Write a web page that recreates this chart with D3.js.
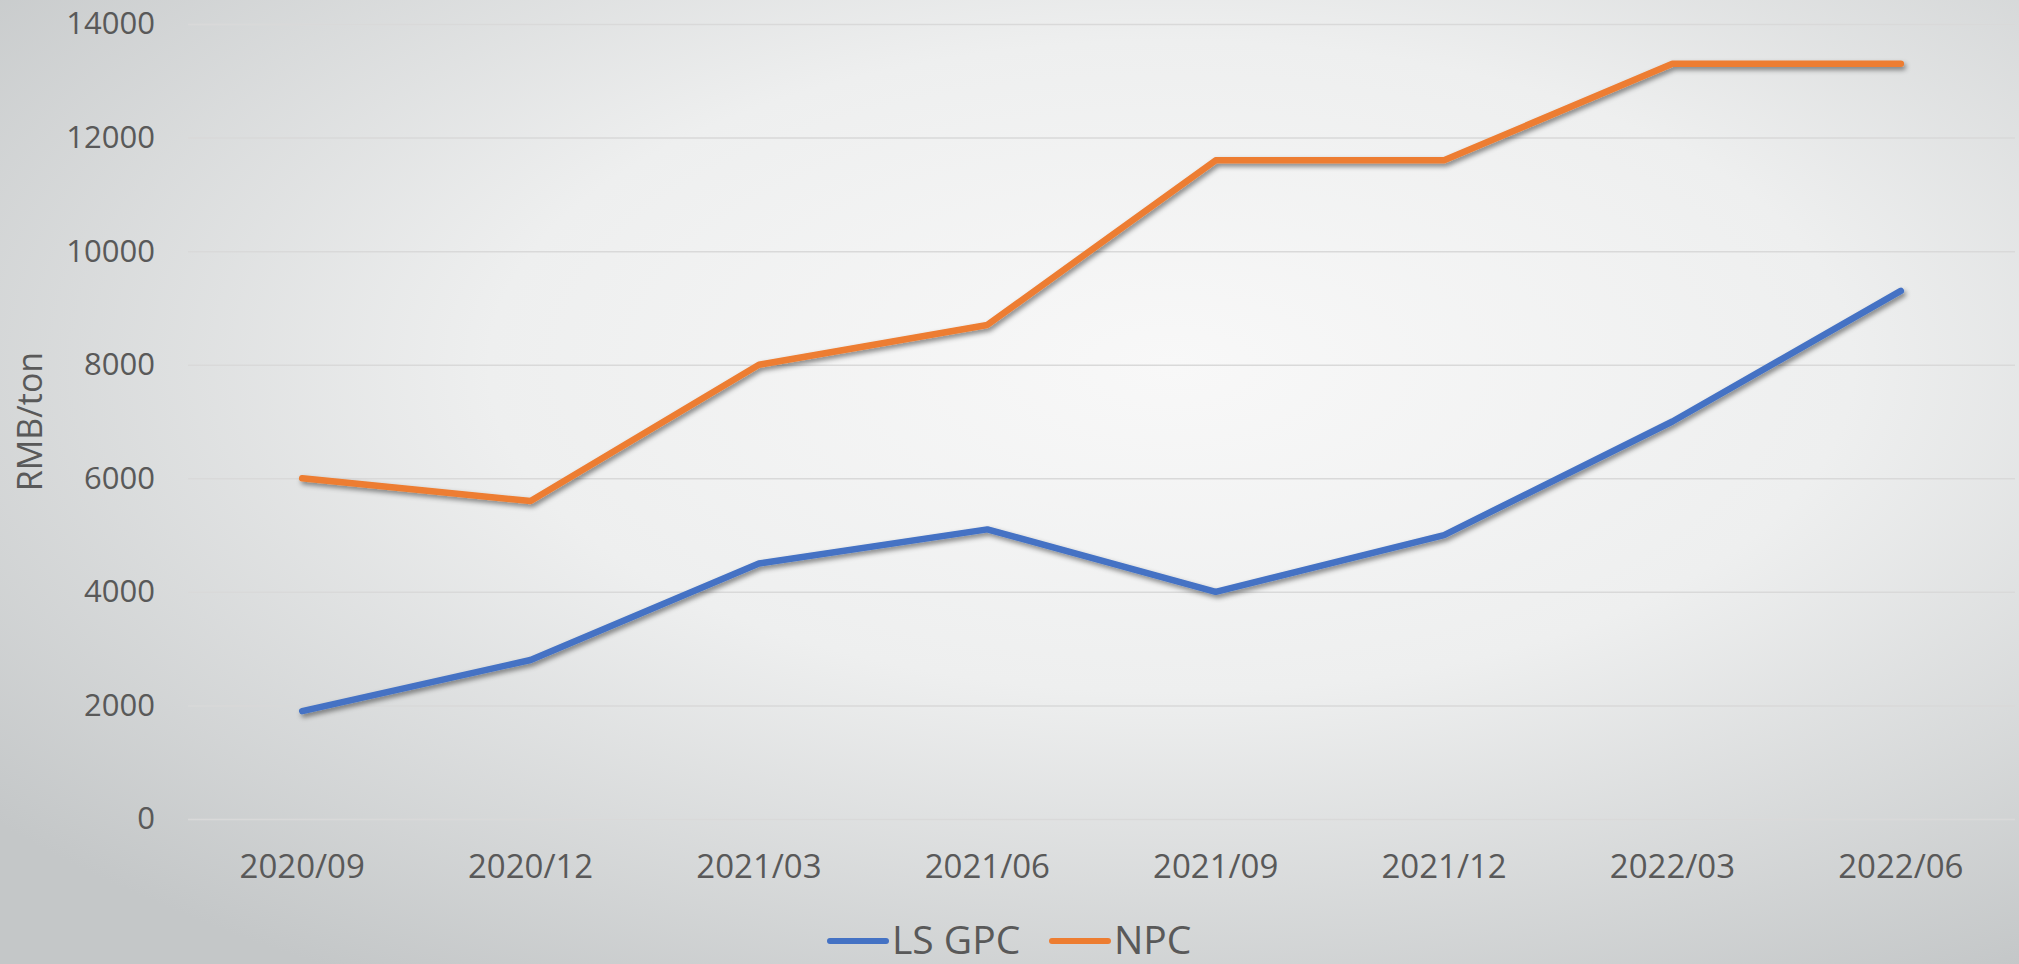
<!DOCTYPE html>
<html>
<head>
<meta charset="utf-8">
<script src="https://cdn.jsdelivr.net/npm/d3@7"></script>
<style>
  html, body { margin: 0; padding: 0; overflow: hidden; }
  svg { display: block; font-family: "Open Sans", "Noto Sans", sans-serif; }
</style>
</head>
<body>
<div id="chartContainer"></div>
<script>
const width = 2019;
const height = 964;

const marginLeft = 188;
const marginRight = 4;
const marginTop = 24;
const marginBottom = 145;

const categories = ["2020/09", "2020/12", "2021/03", "2021/06", "2021/09", "2021/12", "2022/03", "2022/06"];
const lsGpc = [1900, 2800, 4500, 5100, 4000, 5000, 7000, 9300];
const npc = [6000, 5600, 8000, 8700, 11600, 11600, 13300, 13300];
const yTicks = [0, 2000, 4000, 6000, 8000, 10000, 12000, 14000];

const seriesNames = ["LS GPC", "NPC"];
const seriesColors = ["#4472C4", "#ED7D31"];

var svg = d3.select("#chartContainer").append("svg")
    .attr("width", width)
    .attr("height", height);

var defs = svg.append("defs");
var grad = defs.append("radialGradient")
    .attr("id", "bg")
    .attr("cx", "58%").attr("cy", "38%").attr("r", "75%")
    .attr("fx", "58%").attr("fy", "38%");
grad.append("stop").attr("offset", "0%").attr("stop-color", "#f8f8f8");
grad.append("stop").attr("offset", "45%").attr("stop-color", "#eeefef");
grad.append("stop").attr("offset", "100%").attr("stop-color", "#c4c7c8");

var shadow = defs.append("filter").attr("id", "shadow")
    .attr("x", "-5%").attr("y", "-10%").attr("width", "110%").attr("height", "130%");
shadow.append("feDropShadow")
    .attr("dx", 2).attr("dy", 3).attr("stdDeviation", 2.5)
    .attr("flood-color", "#000").attr("flood-opacity", 0.45);

svg.append("rect").attr("width", width).attr("height", height).attr("fill", "url(#bg)");

var xScale = d3.scaleBand().domain(categories).range([marginLeft, width - marginRight]);
var yScale = d3.scaleLinear().domain([0, 14000]).range([height - marginBottom, marginTop]);

// gridlines
svg.append("g")
    .attr("transform", "translate(" + marginLeft + ",0)")
    .call(d3.axisLeft(yScale).tickValues(yTicks).tickSize(-(width - marginLeft - marginRight)).tickFormat(""))
    .call(g => g.select(".domain").remove())
    .call(g => g.selectAll("line").attr("stroke", "#d9d9d9").attr("stroke-width", 1.5));

// y tick labels
svg.append("g")
    .attr("transform", "translate(" + (marginLeft - 33) + ",0)")
    .call(d3.axisLeft(yScale).tickValues(yTicks).tickSize(0).tickPadding(0).tickFormat(d3.format("d")))
    .call(g => g.select(".domain").remove())
    .call(g => g.selectAll("text")
        .attr("fill", "#595959")
        .attr("font-size", 31)
        .attr("font-family", "'Open Sans', sans-serif"));

// x tick labels
svg.append("g")
    .attr("transform", "translate(0," + (height - marginBottom) + ")")
    .call(d3.axisBottom(xScale).tickSize(0).tickPadding(36))
    .call(g => g.select(".domain").remove())
    .call(g => g.selectAll("text")
        .attr("fill", "#595959")
        .attr("font-size", 33)
        .attr("font-family", "'Open Sans', sans-serif"));

// y axis title
svg.append("text")
    .attr("transform", "translate(42," + ((marginTop + height - marginBottom) / 2) + ") rotate(-90)")
    .attr("text-anchor", "middle")
    .attr("fill", "#595959")
    .attr("font-size", 34)
    .text("RMB/ton");

var line = d3.line()
    .x((d, i) => xScale(categories[i]) + xScale.bandwidth() / 2)
    .y(d => yScale(d));

[lsGpc, npc].forEach(function (values, k) {
    svg.append("path")
        .attr("d", line(values))
        .attr("fill", "none")
        .attr("stroke", seriesColors[k])
        .attr("stroke-width", 6.5)
        .attr("stroke-linecap", "round")
        .attr("stroke-linejoin", "round")
        .attr("filter", "url(#shadow)");
});

// legend
var legend = svg.append("g").attr("transform", "translate(0,941)");
var legendItems = [
    { x: 830, name: seriesNames[0], color: seriesColors[0] },
    { x: 1052, name: seriesNames[1], color: seriesColors[1] }
];
legendItems.forEach(function (item) {
    legend.append("line")
        .attr("x1", item.x).attr("x2", item.x + 56)
        .attr("y1", 0).attr("y2", 0)
        .attr("stroke", item.color)
        .attr("stroke-width", 6)
        .attr("stroke-linecap", "round");
    legend.append("text")
        .attr("x", item.x + 62)
        .attr("y", 13)
        .attr("fill", "#595959")
        .attr("font-size", 39)
        .text(item.name);
});
</script>
</body>
</html>
